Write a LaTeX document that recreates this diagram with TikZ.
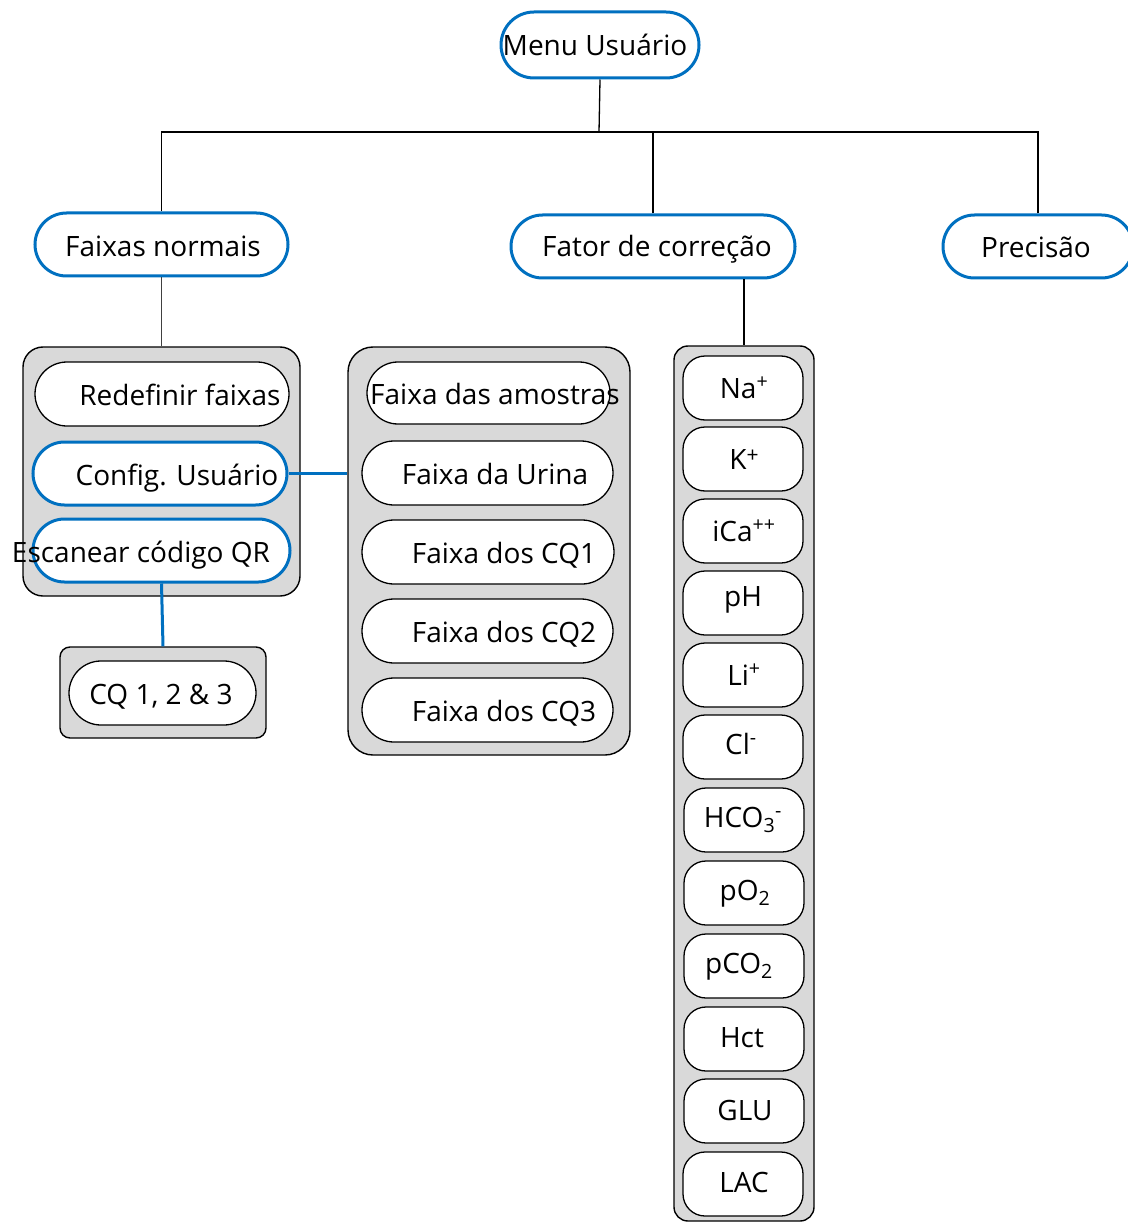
\documentclass[tikz,border=0pt]{standalone}
\usepackage{fontspec}
\setmainfont{Open Sans}
\usetikzlibrary{shapes.misc}
\definecolor{menublue}{HTML}{0070C0}
\definecolor{panelgray}{HTML}{D9D9D9}
\begin{document}
\begin{tikzpicture}[x=1pt,y=-1pt,
  txt/.style={inner sep=0pt,text height=20pt,text depth=0pt,font=\fontsize{28}{33}\selectfont},
  bluepill/.style={shape=rounded rectangle,draw=menublue,line width=3pt,fill=white,inner sep=0pt},
  blackpill/.style={shape=rounded rectangle,draw=black,line width=1.3pt,fill=white,inner sep=0pt},
  itempill/.style={shape=rectangle,rounded corners=22pt,draw=black,line width=1.3pt,fill=white,
    minimum width=120pt,minimum height=64pt,inner sep=0pt},
  panel/.style={shape=rectangle,draw=black,line width=1.4pt,fill=panelgray,inner sep=0pt},
  tree/.style={draw=black,line width=1.3pt},
  bluelink/.style={draw=menublue,line width=3pt}]
\useasboundingbox (0,0) rectangle (1127,1222);

% top level
\node[bluepill,minimum width=198pt,minimum height=66pt] (menu) at (600,45) {};
\node[txt] (tmenu) at (595,46) {Menu Usuário};

\node[bluepill,minimum width=253pt,minimum height=63pt] (faixas) at (161.5,244.5) {};
\node[txt] (tfaixas) at (163,247) {Faixas normais};
\node[bluepill,minimum width=284pt,minimum height=63pt] (fator) at (653,246.5) {};
\node[txt] (tfator) at (657,247) {Fator de correção};
\node[bluepill,minimum width=190pt,minimum height=63pt] (prec) at (1038,246.5) {};
\node[txt] (tprec) at (1036,248) {Precisão};

% tree connectors
\coordinate (junc) at (599,132);
\draw[tree] (menu.south) -- (junc);
\draw[tree] (faixas.north) |- (junc);
\draw[tree] (prec.north) |- (junc);
\draw[tree] (fator.north) -- (fator.north |- junc);

% left panel
\node[panel,rounded corners=20pt,minimum width=277pt,minimum height=249pt] (grpL) at (161.5,471.5) {};
\draw[draw=black!75,line width=1.6pt] (faixas.south) -- (grpL.north);
\node[blackpill,minimum width=254pt,minimum height=64pt] (redef) at (162,394) {};
\node[txt] (tredef) at (180,395) {Redefinir faixas};
\node[bluepill,minimum width=254pt,minimum height=63pt] (config) at (160,473.5) {};
\node[txt] (tconfig) at (177,475) {Config. Usuário};
\node[bluepill,minimum width=257pt,minimum height=63pt] (scan) at (161.5,550.5) {};
\node[txt] (tscan) at (141,552) {Escanear código QR};

% QC box
\node[panel,rounded corners=10pt,minimum width=206pt,minimum height=91pt] (cqbox) at (163,692.5) {};
\node[blackpill,minimum width=187pt,minimum height=64pt] (cq) at (162.5,693) {};
\node[txt] (tcq) at (161,694) {CQ 1, 2 \& 3};
\draw[bluelink] (scan.south) -- (cqbox.north);

% middle panel
\node[panel,rounded corners=25pt,minimum width=282pt,minimum height=408pt] (grpM) at (489,551) {};
\draw[bluelink] (config.east) -- (grpM.west |- config.east);
\node[blackpill,minimum width=243pt,minimum height=62pt] (amos) at (488.5,393) {};
\node[txt] (tamos) at (495,394) {Faixa das amostras};
\node[blackpill,minimum width=251pt,minimum height=64pt] (urina) at (487.5,473) {};
\node[txt] (turina) at (495,474) {Faixa da Urina};
\node[blackpill,minimum width=252pt,minimum height=64pt] (cq1) at (488,552) {};
\node[txt] (tcq1) at (504,553) {Faixa dos CQ1};
\node[blackpill,minimum width=251pt,minimum height=64pt] (cq2) at (487.5,631) {};
\node[txt] (tcq2) at (504,632) {Faixa dos CQ2};
\node[blackpill,minimum width=251pt,minimum height=64pt] (cq3) at (487.5,710) {};
\node[txt] (tcq3) at (504,711) {Faixa dos CQ3};

% right panel
\node[panel,rounded corners=14pt,minimum width=140pt,minimum height=875pt] (grpR) at (744,783.5) {};
\draw[tree] (grpR.north |- fator.south) -- (grpR.north);
\node[itempill] (na) at (743,388) {};
\node[txt] (tna) at (744,388) {Na\textsuperscript{+}};
\node[itempill] (k) at (743,459) {};
\node[txt] (tk) at (744,459) {K\raisebox{0.45ex}{\fontsize{21}{21}\selectfont +}};
\node[itempill] (ica) at (743,531) {};
\node[txt] (tica) at (744,531) {iCa\textsuperscript{++}};
\node[itempill] (ph) at (743,603) {};
\node[txt] (tph) at (743,596) {pH};
\node[itempill] (li) at (743,675) {};
\node[txt] (tli) at (744,675) {Li\textsuperscript{+}};
\node[itempill] (cl) at (743,747) {};
\node[txt] (tcl) at (741,744) {Cl\textsuperscript{-}};
\node[itempill] (hco) at (744,820) {};
\node[txt] (thco) at (743,817) {HCO\textsubscript{3}\textsuperscript{-}};
\node[itempill] (po) at (744,893) {};
\node[txt] (tpo) at (745,890) {pO\textsubscript{2}};
\node[itempill] (pco) at (744,966) {};
\node[txt] (tpco) at (739,963) {pCO\textsubscript{2}};
\node[itempill] (hct) at (744,1039) {};
\node[txt] (thct) at (742,1037) {Hct};
\node[itempill] (glu) at (744,1111) {};
\node[txt] (tglu) at (745,1110) {GLU};
\node[itempill] (lac) at (743,1184) {};
\node[txt] (tlac) at (744,1182) {LAC};
\end{tikzpicture}
\end{document}
